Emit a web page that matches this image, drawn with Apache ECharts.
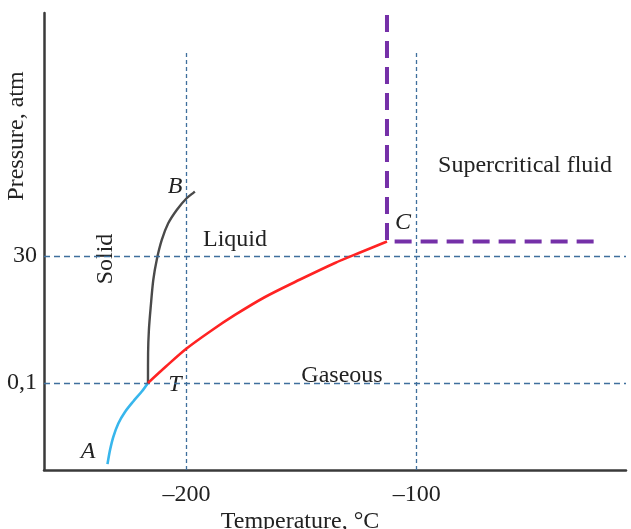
<!DOCTYPE html>
<html>
<head>
<meta charset="utf-8">
<script src="https://cdn.jsdelivr.net/npm/echarts@6/dist/echarts.min.js"></script>
<style>
  html, body { margin: 0; padding: 0; background: #fff; }
  #chart { width: 631px; height: 529px; }
</style>
</head>
<body>
<div id="chart"></div>
<script>
// Phase diagram: temperature (°C) vs pressure (atm, log scale)

// Sublimation curve A -> T
const sublimationT = [-234.4, -233.3, -231.9, -229.7, -226.8, -223.2, -219.5, -216.8];
const sublimationP = [0.0026, 0.0049, 0.0088, 0.0162, 0.0271, 0.0435, 0.068, 0.1];

// Melting curve T -> B
const meltingT = [-216.8, -216.75, -216.4, -215.6, -214.5, -213.0, -210.8, -208.0, -204.3, -200.0, -196.4];
const meltingP = [0.1, 0.38, 1.08, 3.08, 10.2, 25.1, 61.5, 130, 237, 401, 540];

// Vaporization curve T -> C
const vaporT = [-216.8, -209.0, -200.3, -189.8, -179.0, -165.9, -150.7, -135.5, -124.6, -112.9];
const vaporP = [0.1, 0.209, 0.459, 1.01, 2.12, 4.75, 10.4, 21.9, 35.1, 57.5];

// Supercritical region boundary through the critical point C
const boundaryT = [-112.9, -112.9, -20];
const boundaryP = [1.5e6, 57.5, 57.5];

// Axis ticks
const xTickValues = [-200, -100];
const xTickLabels = ['–200', '–100'];
const yTickValues = [30, 0.1];
const yTickLabels = ['30', '0,1'];

// Axis ranges
const tempRange = [-262, -9];
const pressRange = [0.002, 1.65e6];
const guideTop = 3.1e5;

const zip = (a, b) => a.map((v, i) => [v, b[i]]);
const serif = '"Liberation Serif", "Times New Roman", serif';
const guideColor = '#3f6f9d';

function pickLabel(values, labels, v) {
  let best = 0, bd = Infinity;
  values.forEach((t, i) => {
    const d = Math.abs(Math.log(Math.abs(t)) - Math.log(Math.abs(v)));
    if (d < bd) { bd = d; best = i; }
  });
  return labels[best];
}

const chart = echarts.init(document.getElementById('chart'), null, { renderer: 'canvas' });

const option = {
  animation: false,
  backgroundColor: '#ffffff',
  grid: { left: 44, right: 5, top: 13, bottom: 59, outerBoundsMode: 'none' },
  xAxis: {
    type: 'value',
    min: tempRange[0],
    max: tempRange[1],
    axisLine: { show: true, onZero: false, lineStyle: { color: '#3a3a3a', width: 2.5 } },
    axisTick: { show: false },
    splitLine: { show: false },
    axisLabel: {
      customValues: xTickValues,
      margin: 13,
      fontFamily: serif,
      fontSize: 24,
      color: '#222',
      formatter: v => xTickLabels[xTickValues.indexOf(Math.round(v))] || ''
    }
  },
  yAxis: {
    type: 'log',
    logBase: 10,
    min: pressRange[0],
    max: pressRange[1],
    axisLine: { show: true, onZero: false, lineStyle: { color: '#3a3a3a', width: 2.5 } },
    axisTick: { show: false },
    splitLine: { show: false },
    axisLabel: {
      customValues: yTickValues,
      margin: 7,
      fontFamily: serif,
      fontSize: 24,
      color: '#222',
      formatter: v => pickLabel(yTickValues, yTickLabels, v)
    }
  },
  series: [
    {
      name: 'guides',
      type: 'line',
      data: [],
      silent: true,
      markLine: {
        silent: true,
        symbol: 'none',
        label: { show: false },
        animation: false,
        data: [
          [{ coord: [tempRange[0], yTickValues[0]], lineStyle: { type: [6, 4] } }, { coord: [tempRange[1], yTickValues[0]] }],
          [{ coord: [tempRange[0], yTickValues[1]], lineStyle: { type: [6, 4] } }, { coord: [tempRange[1], yTickValues[1]] }],
          [{ coord: [xTickValues[0], pressRange[0]] }, { coord: [xTickValues[0], guideTop] }],
          [{ coord: [xTickValues[1], pressRange[0]] }, { coord: [xTickValues[1], guideTop] }]
        ],
        lineStyle: { color: guideColor, width: 1.3, type: [4, 3] }
      }
    },
    {
      name: 'sublimation',
      type: 'line',
      data: zip(sublimationT, sublimationP),
      showSymbol: false,
      smooth: 0.3,
      lineStyle: { color: '#38b6ec', width: 2.6 },
      z: 4
    },
    {
      name: 'melting',
      type: 'line',
      data: zip(meltingT, meltingP),
      showSymbol: false,
      smooth: 0.3,
      lineStyle: { color: '#4a4a4a', width: 2.4 },
      z: 4
    },
    {
      name: 'vaporization',
      type: 'line',
      data: zip(vaporT, vaporP),
      showSymbol: false,
      smooth: 0.3,
      lineStyle: { color: '#ff2323', width: 2.6 },
      z: 5
    },
    {
      name: 'supercritical',
      type: 'line',
      data: zip(boundaryT, boundaryP),
      showSymbol: false,
      lineStyle: { color: '#7530a8', width: 4, type: [17, 9] },
      z: 5
    }
  ],
  graphic: [
    { type: 'text', x: 300, y: 522, style: { text: 'Temperature, °C', font: '24px ' + serif, fill: '#222', align: 'center', verticalAlign: 'middle' } },
    { type: 'text', x: 17, y: 136, rotation: Math.PI / 2, style: { text: 'Pressure, atm', font: '24px ' + serif, fill: '#222', align: 'center', verticalAlign: 'middle' } },
    { type: 'text', x: 106, y: 259, rotation: Math.PI / 2, style: { text: 'Solid', font: '24px ' + serif, fill: '#222', align: 'center', verticalAlign: 'middle' } },
    { type: 'text', x: 235, y: 240, style: { text: 'Liquid', font: '24px ' + serif, fill: '#222', align: 'center', verticalAlign: 'middle' } },
    { type: 'text', x: 342, y: 376, style: { text: 'Gaseous', font: '24px ' + serif, fill: '#222', align: 'center', verticalAlign: 'middle' } },
    { type: 'text', x: 525, y: 166, style: { text: 'Supercritical fluid', font: '24px ' + serif, fill: '#222', align: 'center', verticalAlign: 'middle' } },
    { type: 'text', x: 175, y: 187, style: { text: 'B', font: 'italic 24px ' + serif, fill: '#222', align: 'center', verticalAlign: 'middle' } },
    { type: 'text', x: 403, y: 223, style: { text: 'C', font: 'italic 24px ' + serif, fill: '#222', align: 'center', verticalAlign: 'middle' } },
    { type: 'text', x: 175, y: 385, style: { text: 'T', font: 'italic 24px ' + serif, fill: '#222', align: 'center', verticalAlign: 'middle' } },
    { type: 'text', x: 88, y: 452, style: { text: 'A', font: 'italic 24px ' + serif, fill: '#222', align: 'center', verticalAlign: 'middle' } }
  ]
};

chart.setOption(option);
</script>
</body>
</html>
